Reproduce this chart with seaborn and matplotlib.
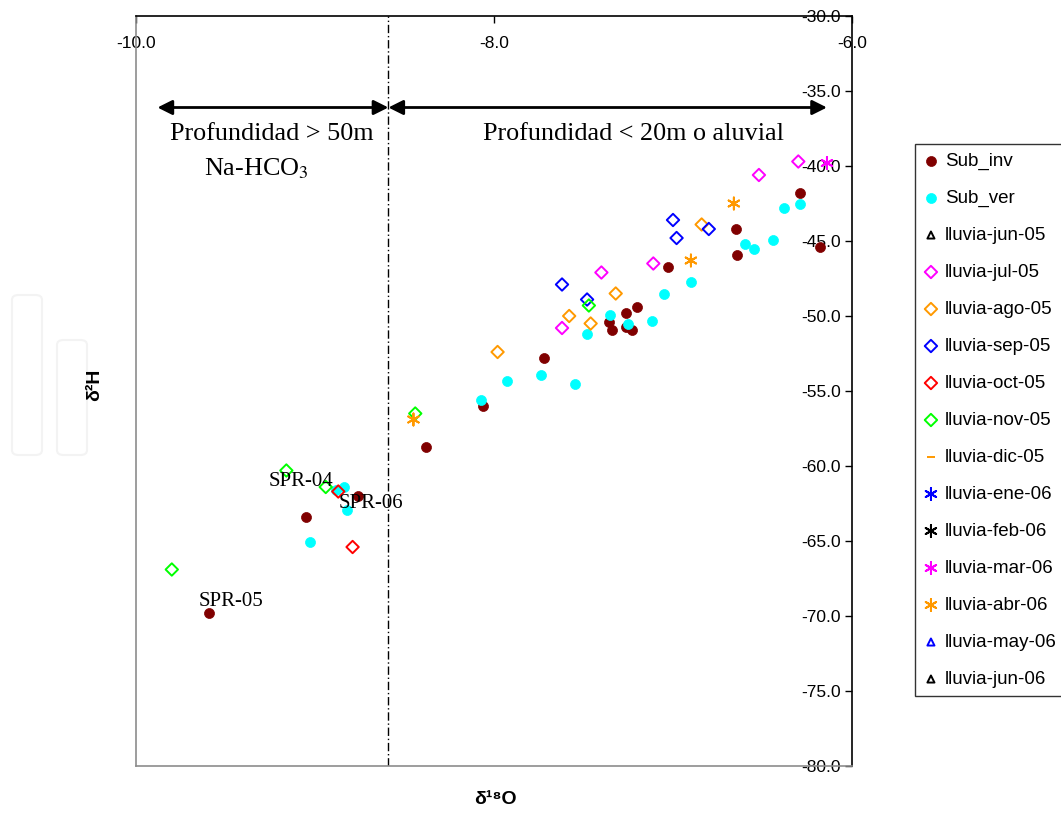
import matplotlib
matplotlib.use("Agg")
import matplotlib.pyplot as plt
import seaborn as sns
import pandas as pd
from matplotlib.patches import FancyBboxPatch

# --- data -----------------------------------------------------------------
sub_inv_x = [-6.29, -6.18, -6.65, -6.64, -7.03, -7.20, -7.26, -7.36, -7.34, -7.26,
             -7.23, -7.72, -8.06, -8.38, -9.59, -9.05, -8.76]
sub_inv_y = [-41.8, -45.4, -44.2, -45.9, -46.7, -49.4, -49.8, -50.4, -50.9, -50.7,
             -50.9, -52.8, -56.0, -58.7, -69.8, -63.4, -62.0]

sub_ver_x = [-6.29, -6.38, -6.44, -6.55, -6.60, -6.90, -7.05, -7.12, -7.25, -7.35,
             -7.48, -7.55, -7.74, -7.93, -8.07, -9.03, -8.84, -8.82, -8.88]
sub_ver_y = [-42.5, -42.8, -44.9, -45.5, -45.2, -47.7, -48.5, -50.3, -50.5, -49.9,
             -51.2, -54.5, -53.9, -54.3, -55.6, -65.1, -61.4, -62.9, -61.6]

jul05_x = [-6.30, -6.52, -7.11, -7.40, -7.62]
jul05_y = [-39.7, -40.6, -46.5, -47.1, -50.8]
ago05_x = [-6.84, -7.32, -7.58, -7.46, -7.98]
ago05_y = [-43.9, -48.5, -50.0, -50.5, -52.4]
sep05_x = [-7.00, -6.98, -6.80, -7.62, -7.48]
sep05_y = [-43.6, -44.8, -44.2, -47.9, -48.9]
oct05_x = [-8.87, -8.79]
oct05_y = [-61.7, -65.4]
nov05_x = [-7.47, -8.44, -9.80, -9.16, -8.94]
nov05_y = [-49.3, -56.5, -66.9, -60.3, -61.4]
mar06_x = [-6.14]
mar06_y = [-39.8]
abr06_x = [-6.66, -6.90, -8.45]
abr06_y = [-42.5, -46.3, -56.9]

series_names = ["Sub_inv", "Sub_ver", "lluvia-jun-05", "lluvia-jul-05", "lluvia-ago-05",
                "lluvia-sep-05", "lluvia-oct-05", "lluvia-nov-05", "lluvia-dic-05",
                "lluvia-ene-06", "lluvia-feb-06", "lluvia-mar-06", "lluvia-abr-06",
                "lluvia-may-06", "lluvia-jun-06"]
series_x = [sub_inv_x, sub_ver_x, [], jul05_x, ago05_x, sep05_x, oct05_x, nov05_x, [],
            [], [], mar06_x, abr06_x, [], []]
series_y = [sub_inv_y, sub_ver_y, [], jul05_y, ago05_y, sep05_y, oct05_y, nov05_y, [],
            [], [], mar06_y, abr06_y, [], []]

labels_txt = ["SPR-04", "SPR-06", "SPR-05"]
labels_x = [-9.08, -8.69, -9.47]
labels_y = [-61.0, -62.5, -69.0]

boundary_x = -8.59
x_ticks = [-10.0, -8.0, -6.0]
y_ticks = [-30.0, -35.0, -40.0, -45.0, -50.0, -55.0, -60.0, -65.0, -70.0, -75.0, -80.0]

# --- styles -------------------------------------------------------------
ASTER = (6, 2, 0)
STYLES = {
    "Sub_inv": ("o", "#800000", True, 52),
    "Sub_ver": ("o", "#00FFFF", True, 52),
    "lluvia-jun-05": ("^", "black", False, 26),
    "lluvia-jul-05": ("D", "#FF00FF", False, 40),
    "lluvia-ago-05": ("D", "#FF9900", False, 40),
    "lluvia-sep-05": ("D", "#0000FF", False, 40),
    "lluvia-oct-05": ("D", "#FF0000", False, 40),
    "lluvia-nov-05": ("D", "#00FF00", False, 40),
    "lluvia-dic-05": ("_", "#FF9900", False, 30),
    "lluvia-ene-06": (ASTER, "#0000FF", False, 75),
    "lluvia-feb-06": (ASTER, "black", False, 75),
    "lluvia-mar-06": (ASTER, "#FF00FF", False, 75),
    "lluvia-abr-06": (ASTER, "#FF9900", False, 75),
    "lluvia-may-06": ("^", "#0000FF", False, 26),
    "lluvia-jun-06": ("^", "black", False, 26),
}

sns.set_style("white")
plt.rcParams["font.family"] = ["Liberation Sans", "DejaVu Sans"]
plt.rcParams["mathtext.fontset"] = "stix"
plt.rcParams["text.color"] = "black"
plt.rcParams["xtick.color"] = "black"
plt.rcParams["ytick.color"] = "black"

W, H = 1061, 817
fig = plt.figure(figsize=(W / 100, H / 100), dpi=100)
ax = fig.add_axes([136 / W, 1 - 766 / H, (852 - 136) / W, (766 - 16) / H])

for name, xs, ys in zip(series_names, series_x, series_y):
    marker, color, filled, size = STYLES[name]
    if xs:
        df = pd.DataFrame({"x": xs, "y": ys})
        sns.scatterplot(data=df, x="x", y="y", marker=marker, color=color, s=size,
                        ax=ax, label=name, zorder=3)
        coll = ax.collections[-1]
    else:
        coll = ax.scatter([], [], marker=marker, s=size, label=name)
    if filled:
        coll.set_facecolor(color)
        coll.set_edgecolor(color)
        coll.set_linewidth(0.5)
    else:
        coll.set_facecolor("none")
        coll.set_edgecolor(color)
        coll.set_linewidth(1.4)

ax.set_xlim(-10, -6)
ax.set_ylim(-80, -30)
ax.set_xlabel("")
ax.set_ylabel("")

ax.xaxis.tick_top()
ax.yaxis.tick_right()
ax.set_xticks(x_ticks)
ax.set_xticklabels([f"{v:.1f}" for v in x_ticks])
ax.set_yticks(y_ticks)
ax.set_yticklabels([f"{v:.1f}" for v in y_ticks])
ax.tick_params(axis="x", direction="in", length=5, width=1, pad=-25, labelsize=12.5,
               top=True, bottom=False, colors="black")
ax.tick_params(axis="y", direction="in", length=5, width=1, pad=-8, labelsize=12.5,
               right=True, left=False, colors="black")
for lab in ax.get_yticklabels():
    lab.set_horizontalalignment("right")

for side in ["top", "right"]:
    ax.spines[side].set_color("black")
    ax.spines[side].set_linewidth(1.2)
for side in ["left", "bottom"]:
    ax.spines[side].set_color("#8c8c8c")
    ax.spines[side].set_linewidth(1.2)
ax.grid(False)

# depth boundary and double arrows
ax.axvline(boundary_x, color="black", lw=1, linestyle=(0, (6, 2, 1, 2)), zorder=1)
arrow_y = -36.1
for x0, x1 in [(-9.88, boundary_x), (boundary_x, -6.14)]:
    ax.annotate("", xy=(x1, arrow_y), xytext=(x0, arrow_y),
                arrowprops=dict(arrowstyle="<|-|>", color="black", lw=2, mutation_scale=22,
                                shrinkA=0, shrinkB=0))

serif = ["Liberation Serif", "DejaVu Serif"]
ax.text(-9.24, -37.85, "Profundidad > 50m", family=serif, fontsize=18.8, ha="center", va="center")
ax.text(-9.33, -40.15, "Na-HCO$_3$", family=serif, fontsize=18.8, ha="center", va="center")
ax.text(-7.22, -37.85, "Profundidad < 20m o aluvial", family=serif, fontsize=18.8,
        ha="center", va="center")

for t, tx, ty in zip(labels_txt, labels_x, labels_y):
    ax.text(tx, ty, t, family=serif, fontsize=15, ha="center", va="center", zorder=4)

# axis titles
fig.text(95 / W, 1 - 385 / H, "δ²H", rotation=90, fontsize=14, fontweight="bold",
         ha="center", va="center")
fig.text(495 / W, 1 - 800 / H, "δ¹⁸O", fontsize=14, fontweight="bold",
         ha="center", va="center")

# legend
leg = ax.legend(loc="upper left", bbox_to_anchor=(915 / W, 1 - 144 / H),
                bbox_transform=fig.transFigure, frameon=True, fancybox=False,
                fontsize=13.5, handlelength=0.8, handletextpad=0.35, borderpad=0.45,
                labelspacing=1.06, borderaxespad=0, scatterpoints=1)
leg.get_frame().set_edgecolor("black")
leg.get_frame().set_linewidth(1.0)
for txt in leg.get_texts():
    txt.set_color("black")

# faint watermark shapes at the left margin
for (x0, y0, w, h) in [(12, 295, 30, 160), (57, 340, 30, 115)]:
    fig.patches.append(FancyBboxPatch((x0 / W, 1 - (y0 + h) / H), w / W, h / H,
                                      boxstyle="round,pad=0,rounding_size=0.006",
                                      transform=fig.transFigure, fill=False,
                                      edgecolor="#f3f3f3", lw=1.5, zorder=0))

fig.savefig("out.png", dpi=100)
